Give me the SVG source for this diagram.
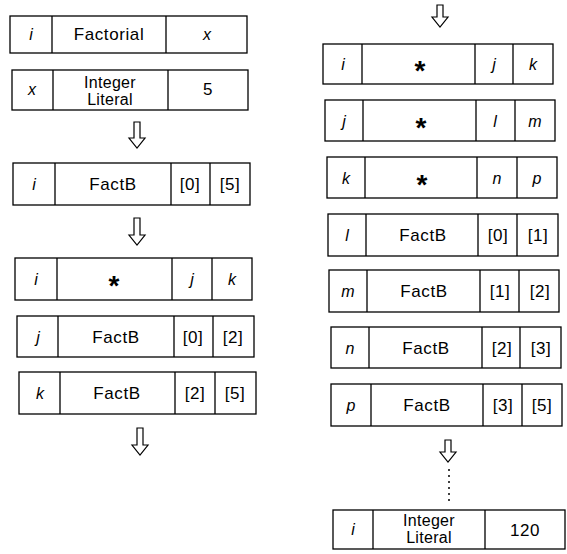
<svg xmlns="http://www.w3.org/2000/svg" width="567" height="554" viewBox="0 0 567 554">
<style>
.b{fill:none;stroke:#000;stroke-width:1.3}
.t{font-family:"Liberation Sans",Arial,sans-serif;font-size:17px;letter-spacing:0.6px;text-anchor:middle;fill:#000}
.it{font-style:italic;letter-spacing:0;font-size:16px}
.two{font-size:16px;letter-spacing:0.3px}
.st{font-weight:bold;font-size:28px;letter-spacing:0}
.ar{fill:#fff;stroke:#000;stroke-width:1.2}
.dot{fill:#000}
</style>
<rect width="567" height="554" fill="#fff"/>
<g id="connectors">
<path class="ar" d="M134,122 h6 v16 h5 l-8,10 l-8,-10 h5 z"/>
<path class="ar" d="M134,218 h6 v17 h5 l-8,10 l-8,-10 h5 z"/>
<path class="ar" d="M137,428 h6 v17 h5 l-8,10 l-8,-10 h5 z"/>
<path class="ar" d="M437,5 h6 v12 h5 l-8,10 l-8,-10 h5 z"/>
<path class="ar" d="M445,440 h6 v12 h5 l-8,10 l-8,-10 h5 z"/>
<g class="dot">
<circle cx="449" cy="470" r="1"/><circle cx="449" cy="476" r="1"/><circle cx="449" cy="482" r="1"/><circle cx="449" cy="488" r="1"/><circle cx="449" cy="494" r="1"/><circle cx="449" cy="500" r="1"/>
</g>
</g>
<g id="n1">
<rect class="b" x="10" y="16" width="237" height="37"/>
<path class="b" d="M52,16V53M166,16V53"/>
<text class="t it" x="31" y="40">i</text>
<text class="t" x="109" y="40">Factorial</text>
<text class="t it" x="207" y="40">x</text>
</g>
<g id="n2">
<rect class="b" x="12" y="70" width="236" height="40"/>
<path class="b" d="M53,70V110M168,70V110"/>
<text class="t it" x="32" y="95">x</text>
<text class="t two" x="110" y="88">Integer</text>
<text class="t two" x="110" y="105">Literal</text>
<text class="t" x="208" y="95">5</text>
</g>
<g id="n3">
<rect class="b" x="13" y="163" width="237" height="42"/>
<path class="b" d="M55,163V205M171,163V205M210,163V205"/>
<text class="t it" x="34" y="190">i</text>
<text class="t" x="113" y="190">FactB</text>
<text class="t" x="190" y="190">[0]</text>
<text class="t" x="230" y="190">[5]</text>
</g>
<g id="n4">
<rect class="b" x="15" y="258" width="237" height="42"/>
<path class="b" d="M57,258V300M172,258V300M212,258V300"/>
<text class="t it" x="36" y="285">i</text>
<text class="t st" x="114" y="295">*</text>
<text class="t it" x="192" y="285">j</text>
<text class="t it" x="232" y="285">k</text>
</g>
<g id="n5">
<rect class="b" x="17" y="316" width="237" height="41"/>
<path class="b" d="M58,316V357M174,316V357M213,316V357"/>
<text class="t it" x="38" y="343">j</text>
<text class="t" x="116" y="343">FactB</text>
<text class="t" x="193" y="343">[0]</text>
<text class="t" x="233" y="343">[2]</text>
</g>
<g id="n6">
<rect class="b" x="19" y="372" width="237" height="42"/>
<path class="b" d="M60,372V414M175,372V414M215,372V414"/>
<text class="t it" x="40" y="399">k</text>
<text class="t" x="117" y="399">FactB</text>
<text class="t" x="195" y="399">[2]</text>
<text class="t" x="235" y="399">[5]</text>
</g>
<g id="r1">
<rect class="b" x="323" y="44" width="230" height="40"/>
<path class="b" d="M362,44V84M475,44V84M513,44V84"/>
<text class="t it" x="343" y="70">i</text>
<text class="t st" x="420" y="80">*</text>
<text class="t it" x="494" y="70">j</text>
<text class="t it" x="533" y="70">k</text>
</g>
<g id="r2">
<rect class="b" x="325" y="100" width="230" height="41"/>
<path class="b" d="M363,100V141M476,100V141M515,100V141"/>
<text class="t it" x="344" y="127">j</text>
<text class="t st" x="421" y="137">*</text>
<text class="t it" x="495" y="127">l</text>
<text class="t it" x="535" y="127">m</text>
</g>
<g id="r3">
<rect class="b" x="327" y="157" width="230" height="41"/>
<path class="b" d="M365,157V198M477,157V198M517,157V198"/>
<text class="t it" x="346" y="184">k</text>
<text class="t st" x="422" y="194">*</text>
<text class="t it" x="497" y="184">n</text>
<text class="t it" x="537" y="184">p</text>
</g>
<g id="r4">
<rect class="b" x="328" y="214" width="230" height="42"/>
<path class="b" d="M366,214V256M478,214V256M517,214V256"/>
<text class="t it" x="347" y="241">l</text>
<text class="t" x="423" y="241">FactB</text>
<text class="t" x="498" y="241">[0]</text>
<text class="t" x="538" y="241">[1]</text>
</g>
<g id="r5">
<rect class="b" x="329" y="270" width="230" height="42"/>
<path class="b" d="M367,270V312M480,270V312M519,270V312"/>
<text class="t it" x="348" y="297">m</text>
<text class="t" x="424" y="297">FactB</text>
<text class="t" x="500" y="297">[1]</text>
<text class="t" x="540" y="297">[2]</text>
</g>
<g id="r6">
<rect class="b" x="331" y="327" width="230" height="41"/>
<path class="b" d="M369,327V368M482,327V368M520,327V368"/>
<text class="t it" x="350" y="354">n</text>
<text class="t" x="426" y="354">FactB</text>
<text class="t" x="502" y="354">[2]</text>
<text class="t" x="541" y="354">[3]</text>
</g>
<g id="r7">
<rect class="b" x="331" y="384" width="231" height="42"/>
<path class="b" d="M371,384V426M483,384V426M522,384V426"/>
<text class="t it" x="351" y="411">p</text>
<text class="t" x="427" y="411">FactB</text>
<text class="t" x="503" y="411">[3]</text>
<text class="t" x="542" y="411">[5]</text>
</g>
<g id="r8">
<rect class="b" x="333" y="510" width="232" height="39"/>
<path class="b" d="M373,510V549M485,510V549"/>
<text class="t it" x="353" y="535">i</text>
<text class="t two" x="429" y="526">Integer</text>
<text class="t two" x="429" y="543">Literal</text>
<text class="t" x="525" y="536">120</text>
</g>
</svg>
